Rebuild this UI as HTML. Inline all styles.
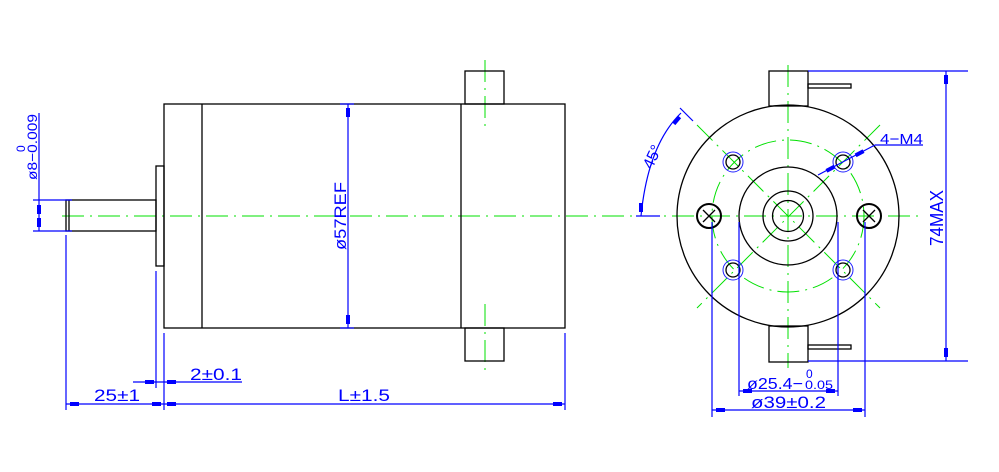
<!DOCTYPE html>
<html><head><style>html,body{margin:0;padding:0;background:#fff}svg{display:block}text{font-family:"Liberation Sans",sans-serif;fill:#0000ff}</style></head><body>
<svg width="999" height="472" viewBox="0 0 999 472" xmlns="http://www.w3.org/2000/svg">
<g fill="none" stroke="#00e000" stroke-width="1" stroke-dasharray="22,6,2,6">
<line x1="62" y1="216" x2="650" y2="216"/>
<line x1="485" y1="60" x2="485" y2="129"/>
<line x1="485" y1="304" x2="485" y2="372"/>
<line x1="636" y1="216" x2="920" y2="216"/>
<line x1="788" y1="65" x2="788" y2="368"/>
<line x1="697" y1="125" x2="880" y2="308"/>
<line x1="880" y1="125" x2="697" y2="308"/>
<circle cx="788" cy="216" r="76"/>
</g>
<g fill="none" stroke="#000" stroke-width="1.3">
<rect x="164" y="104" width="401" height="224"/>
<line x1="202" y1="104" x2="202" y2="328"/>
<line x1="461" y1="104" x2="461" y2="328"/>
<rect x="465" y="71" width="39" height="33"/>
<rect x="465" y="328" width="39" height="33"/>
<rect x="156" y="166" width="8" height="100"/>
<rect x="66" y="200" width="90" height="31"/>
<line x1="69" y1="200" x2="69" y2="231"/>
<circle cx="788" cy="216" r="111"/>
<circle cx="788" cy="216" r="49"/>
<circle cx="788" cy="216" r="25"/>
<circle cx="788" cy="216" r="15.5"/>
<rect x="769" y="71" width="39" height="35"/>
<rect x="769" y="326" width="39" height="36"/>
<rect x="808" y="84" width="43" height="4"/>
<rect x="808" y="345" width="43" height="4"/>
<circle cx="733" cy="162" r="7"/><circle cx="843" cy="162" r="7"/>
<circle cx="733" cy="270" r="7"/><circle cx="843" cy="270" r="7"/>
<circle cx="709" cy="216" r="12" stroke-width="2"/><circle cx="869" cy="216" r="12" stroke-width="2"/>
<path d="M703 210l12 12M715 210l-12 12M863 210l12 12M875 210l-12 12"/>
</g>
<g fill="none" stroke="#2020ff" stroke-width="1">
<circle cx="733" cy="162" r="10"/><circle cx="843" cy="162" r="10"/>
<circle cx="733" cy="270" r="10"/><circle cx="843" cy="270" r="10"/>
</g>
<g fill="none" stroke="#0000ff" stroke-width="1.2">
<line x1="39" y1="113" x2="39" y2="231"/>
<line x1="33" y1="200" x2="72" y2="200"/><line x1="33" y1="231" x2="72" y2="231"/>
<line x1="66" y1="235" x2="66" y2="410"/>
<line x1="156" y1="271" x2="156" y2="388"/>
<line x1="164" y1="333" x2="164" y2="410"/>
<line x1="565" y1="333" x2="565" y2="410"/>
<line x1="66" y1="404" x2="565" y2="404"/>
<line x1="133" y1="382" x2="242" y2="382"/>
<line x1="348" y1="104" x2="348" y2="328"/>
<line x1="340" y1="104" x2="354" y2="104"/><line x1="340" y1="328" x2="354" y2="328"/>
<line x1="946" y1="71" x2="946" y2="361"/>
<line x1="808" y1="71" x2="968" y2="71"/><line x1="808" y1="361" x2="968" y2="361"/>
<line x1="739" y1="222" x2="739" y2="396"/><line x1="838" y1="222" x2="838" y2="396"/>
<line x1="739" y1="391" x2="838" y2="391"/>
<line x1="712" y1="222" x2="712" y2="417"/><line x1="865" y1="222" x2="865" y2="417"/>
<line x1="712" y1="410" x2="865" y2="410"/>
<line x1="636" y1="216" x2="660" y2="216"/>
<line x1="680" y1="108" x2="693" y2="121"/>
<path d="M641 216 Q648 145 681 113"/>
<line x1="818" y1="175" x2="875" y2="145"/><line x1="875" y1="145" x2="923" y2="145"/>
</g>
<g fill="#0000ff">
<rect x="37" y="205" width="4" height="9"/><rect x="37" y="218" width="4" height="9"/>
<rect x="70" y="402" width="9" height="4"/><rect x="152" y="402" width="9" height="4"/><rect x="167" y="402" width="9" height="4"/><rect x="553" y="402" width="9" height="4"/>
<rect x="145" y="380" width="9" height="4"/><rect x="167" y="380" width="9" height="4"/>
<rect x="346" y="108" width="4" height="9"/><rect x="346" y="315" width="4" height="9"/>
<rect x="944" y="75" width="4" height="9"/><rect x="944" y="348" width="4" height="9"/>
<rect x="743" y="389" width="9" height="4"/><rect x="826" y="389" width="9" height="4"/>
<rect x="716" y="408" width="9" height="4"/><rect x="853" y="408" width="9" height="4"/>
<rect x="639" y="203" width="4" height="9"/>
<rect x="675" y="116" width="4" height="9" transform="rotate(40 677 120)"/>
<rect x="826" y="167" width="9" height="4" transform="rotate(-28 830 169)"/>
<rect x="855" y="151" width="9" height="4" transform="rotate(-28 860 153)"/>
</g>
<g font-size="17">
<text x="94" y="401" textLength="46" lengthAdjust="spacingAndGlyphs">25±1</text>
<text x="338" y="401" textLength="52" lengthAdjust="spacingAndGlyphs">L±1.5</text>
<text x="190" y="380" textLength="52" lengthAdjust="spacingAndGlyphs">2±0.1</text>
<text x="880" y="144" textLength="43" lengthAdjust="spacingAndGlyphs" font-size="15">4−M4</text>
<text x="747" y="389" textLength="56" lengthAdjust="spacingAndGlyphs" font-size="16">ø25.4−</text>
<text x="806" y="378" font-size="12">0</text>
<text x="805" y="389" font-size="12" textLength="28" lengthAdjust="spacingAndGlyphs">0.05</text>
<text x="751" y="408" textLength="75" lengthAdjust="spacingAndGlyphs">ø39±0.2</text>
<text transform="translate(346 216) rotate(-90)" text-anchor="middle" textLength="68" lengthAdjust="spacingAndGlyphs">ø57REF</text>
<text transform="translate(943 218) rotate(-90)" text-anchor="middle" textLength="56" lengthAdjust="spacingAndGlyphs" font-size="18">74MAX</text>
<text transform="translate(37 147) rotate(-90)" text-anchor="middle" textLength="66" lengthAdjust="spacingAndGlyphs" font-size="14">ø8−0.009</text>
<text transform="translate(25 152) rotate(-90)" font-size="12">0</text>
<text transform="translate(652 170) rotate(-65)" font-size="16">45°</text>
</g>
</svg>
</body></html>
